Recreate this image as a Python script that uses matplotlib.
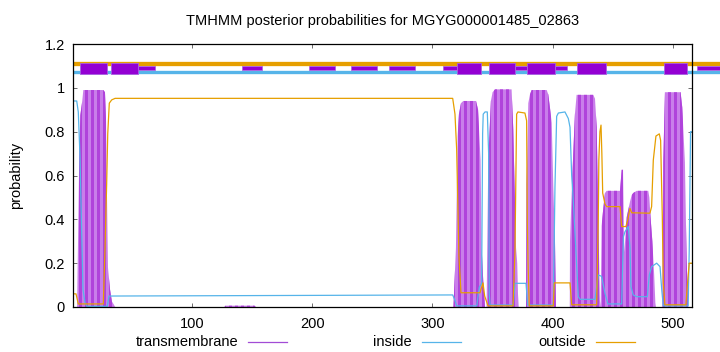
import numpy as np
import matplotlib
matplotlib.use("Agg")
import matplotlib.pyplot as plt
from matplotlib.patches import Polygon
from matplotlib.lines import Line2D

plt.rcParams['font.family'] = ['Liberation Sans', 'DejaVu Sans']

# ---------------- data ----------------
title = "TMHMM posterior probabilities for MGYG000001485_02863"
seq_len = 516

tm_x = [1, 4.4, 4.6, 6.2, 7.1, 8.7, 9.6, 26.2, 27.6, 28.5, 29.3, 30.1, 31.8, 33.4, 35.1, 36,
        127, 128, 152, 153,
        317.5, 318, 319.6, 321, 322.1, 323.8, 325.7, 336.3, 338, 339, 340.1, 341, 342.3, 343.8,
        345.0, 345.2, 346.5, 348.7, 350.1, 352.1, 365.9, 367.3, 368.1, 369.6, 370.6, 371.5,
        377.9, 378.4, 379.8, 381.2, 382.6, 395.1, 396.4, 397.8, 399.3, 400.6, 402.0, 402.8,
        414.3, 414.5, 415.9, 417.2, 418.6, 420.0, 433.9, 435.3, 436.7, 438.0, 439.4, 440.0,
        440.8, 442.2, 443.6, 445.0, 456.1, 457.5, 458.6, 459.2, 459.7, 461.7, 464.4, 465.8,
        467.1, 470.0, 479.6, 480.5, 481.5, 483.0, 484.5, 485.5, 486.0,
        491.5, 492.1, 493.5, 506.5, 507.9, 510.1, 511.5, 512.8, 516]
tm_y = [0, 0, 0.08, 0.69, 0.875, 0.94, 0.99, 0.99, 0.98, 0.85, 0.50, 0.18, 0.08, 0.025, 0.01, 0,
        0, 0.006, 0.006, 0,
        0, 0.06, 0.27, 0.78, 0.88, 0.93, 0.94, 0.94, 0.90, 0.79, 0.67, 0.27, 0.12, 0,
        0, 0.05, 0.67, 0.94, 0.98, 0.993, 0.993, 0.81, 0.62, 0.27, 0.20, 0,
        0, 0.56, 0.93, 0.97, 0.99, 0.99, 0.97, 0.91, 0.84, 0.55, 0.30, 0,
        0, 0.30, 0.52, 0.70, 0.88, 0.968, 0.968, 0.95, 0.82, 0.41, 0.03, 0,
        0.37, 0.45, 0.52, 0.53, 0.53, 0.626, 0.626, 0.40, 0.25, 0.41, 0.48, 0.51,
        0.52, 0.53, 0.53, 0.50, 0.41, 0.30, 0.15, 0.02, 0,
        0, 0.66, 0.98, 0.98, 0.91, 0.66, 0.22, 0, 0]

inside_x = [1, 4.1, 5.4, 6.8, 9.3, 11, 12.6, 29.5, 31,
            316.9, 318.8, 320.2, 336.9, 339, 341, 341.8, 342.3, 343.8, 345.7,
            346.8, 347.3, 348, 367.3, 368.7, 377.9, 379.3, 400.6, 402.0, 403.4,
            404.8, 410.3, 413.1, 414.5, 415.9, 417.2, 419, 421.4, 423, 435.3,
            438.0, 440.8, 443.6, 445, 446, 457.5, 458.9, 460.3, 463, 464.4,
            465.2, 467.1, 470, 478.8, 480.5, 482.4, 486.6, 489.4, 490.8, 492.1,
            512.8, 513.7, 514.8, 516]
inside_y = [0.94, 0.94, 0.89, 0.69, 0.08, 0.02, 0.003, 0.003, 0.05,
            0.055, 0.03, 0.005, 0.005, 0.09, 0.108, 0.79, 0.88, 0.89, 0.89,
            0.70, 0.06, 0.009, 0.009, 0.108, 0.108, 0.009, 0.009, 0.55, 0.87,
            0.885, 0.89, 0.86, 0.82, 0.60, 0.49, 0.30, 0.047, 0.035, 0.035,
            0.146, 0.14, 0.062, 0.035, 0.014, 0.014, 0.32, 0.344, 0.367, 0.27,
            0.093, 0.055, 0.047, 0.047, 0.146, 0.184, 0.20, 0.184, 0.08, 0.005,
            0.005, 0.26, 0.80, 0.80]

outside_x = [1, 3.5, 5.4, 26.2, 27.6, 29, 29.9, 31.2, 33.2, 36,
             316.9, 318.8, 320.2, 322.1, 323.8, 339.6, 342.1, 343.5, 346.3, 367.1,
             368.7, 370.1, 371.2, 377, 378.4, 379, 379.6, 380.6, 400.6, 401.4,
             414.5, 415.9, 436.7, 438.0, 438.5, 439.4, 440.3, 441, 441.7, 443.6,
             445, 456.1, 457.5, 461, 462.7, 464.4, 465.8, 481, 482.4, 483.8,
             486, 488.8, 489.9, 491.3, 492.1, 493.5, 510.9, 512, 513.7, 516]
outside_y = [0.06, 0.06, 0.014, 0.014, 0.26, 0.56, 0.79, 0.93, 0.945, 0.952,
             0.952, 0.88, 0.72, 0.23, 0.065, 0.065, 0.11, 0.05, 0.005, 0.005,
             0.25, 0.88, 0.89, 0.885, 0.85, 0.38, 0.2, 0.005, 0.005, 0.11,
             0.11, 0.01, 0.01, 0.40, 0.67, 0.80, 0.83, 0.70, 0.52, 0.47,
             0.458, 0.458, 0.367, 0.367, 0.40, 0.45, 0.43, 0.428, 0.458, 0.67,
             0.78, 0.79, 0.76, 0.41, 0.11, 0.01, 0.01, 0.09, 0.2, 0.2]

# topology track at the top
tm_big_start = [6.8, 32.6, 320.5, 347.1, 378.7, 420.3, 492.9]
tm_big_end = [29.3, 55.1, 340.4, 368.7, 402.0, 444.4, 512.0]
tm_small_start = [55.1, 141.6, 197.3, 232.3, 263.9, 308.8, 368.7, 402.0, 520.1]
tm_small_end = [69.2, 158.2, 219.0, 254.0, 285.5, 320.5, 378.7, 412.0, 540.0]
track_start, track_end = 1, 540
outside_level, inside_level, tm_level = 1.11, 1.072, 1.09

xticks = [100, 200, 300, 400, 500]
yticks = [0, 0.2, 0.4, 0.6, 0.8, 1.0, 1.2]
ytick_labels = ["0", "0.2", "0.4", "0.6", "0.8", "1", "1.2"]
legend_labels = ["transmembrane", "inside", "outside"]

# ---------------- style ----------------
C_OUT = "#e69f00"
C_IN = "#56b4e9"
C_TM = "#9400d3"
C_TM_DARK = "#b043db"
C_TM_LIGHT = "#c97eea"
FS = 10.5

W, H = 720, 352
fig = plt.figure(figsize=(W / 100, H / 100), dpi=100)
L, R, T, B = 73, 692, 44, 307
ax = fig.add_axes([L / W, 1 - B / H, (R - L) / W, (B - T) / H])
ax.set_xlim(1, seq_len)
ax.set_ylim(0, 1.2)

# transmembrane posterior, striped fill
verts = np.column_stack([tm_x, tm_y])
poly = Polygon(verts, closed=True, facecolor=C_TM_LIGHT, edgecolor='none', zorder=2)
ax.add_patch(poly)
stripe_x = np.arange(1, seq_len + 5, 5.0)
stripes = ax.bar(stripe_x, 1.2, width=2.5, align='edge', color=C_TM_DARK,
                 linewidth=0, zorder=2.1)
for s in stripes:
    s.set_clip_path(poly)

ax.plot(inside_x, inside_y, color=C_IN, lw=0.9, zorder=3)
ax.plot(outside_x, outside_y, color=C_OUT, lw=0.9, zorder=3)

# topology track
ax.plot([track_start, track_end], [outside_level] * 2, color=C_OUT, lw=3.1,
        solid_capstyle='butt', clip_on=False, zorder=4)
ax.plot([track_start, track_end], [inside_level] * 2, color=C_IN, lw=2.4,
        solid_capstyle='butt', clip_on=False, zorder=4)
small = ax.broken_barh([(s, e - s) for s, e in zip(tm_small_start, tm_small_end)],
                       (tm_level - 0.0105, 0.021), facecolors=C_TM,
                       edgecolors='#a860e0', linewidth=0.5, zorder=5)
small.set_clip_on(False)
big = ax.broken_barh([(s, e - s) for s, e in zip(tm_big_start, tm_big_end)],
                     (tm_level - 0.025, 0.05), facecolors=C_TM,
                     edgecolors='#a860e0', linewidth=0.6, zorder=6)
big.set_clip_on(False)

# axes styling
ax.set_xticks(xticks)
ax.set_yticks(yticks)
ax.set_yticklabels(ytick_labels)
ax.tick_params(axis='both', direction='in', length=3, width=0.6, color='#555555',
               labelsize=FS, top=True, right=True, pad=6)
ax.tick_params(axis='x', pad=7)
for sp in ax.spines.values():
    sp.set_linewidth(0.9)
    sp.set_color('black')
    sp.set_zorder(7)

fig.text(382.5 / W, 1 - 21 / H, title, ha='center', va='center', fontsize=FS)
fig.text(16 / W, 1 - 175 / H, "probability", ha='center', va='center',
         rotation=90, fontsize=FS)

# legend (horizontal, below axes)
leg_y = 1 - 342 / H
leg_text_right = [238, 412, 586]
leg_colors = ['#a24cd6', C_IN, C_OUT]
for lab, xr, c in zip(legend_labels, leg_text_right, leg_colors):
    fig.text(xr / W, leg_y, lab, ha='right', va='center', fontsize=FS)
    fig.add_artist(Line2D([(xr + 10) / W, (xr + 49) / W], [leg_y, leg_y],
                          color=c, lw=0.9, transform=fig.transFigure))

fig.savefig("out.png", dpi=100)
